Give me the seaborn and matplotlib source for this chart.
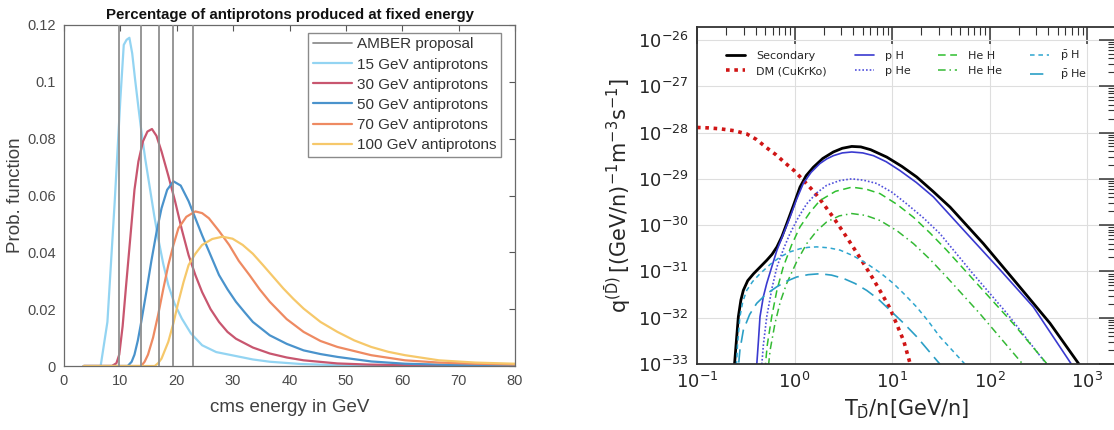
import numpy as np
import pandas as pd
import matplotlib
matplotlib.use("Agg")
import matplotlib.pyplot as plt
import matplotlib.ticker as mticker
import seaborn as sns

# ---- left panel: antiproton beams, prob. function vs cms energy ----
amber_cms = [9.7, 13.7, 16.8, 19.4, 22.9]

e15_x = [3.5, 6.5, 7.7, 9.0, 10.0, 10.6, 11.1, 11.6, 12.1, 12.6, 13.2, 13.7, 14.4, 15.2, 16.0, 16.7, 17.6,
         18.5, 19.6, 20.9, 22.5, 24.5, 27.0, 30.5, 33.5, 36.5, 42.0, 48.5, 60.0, 80.0]
e15_y = [0, 0, 0.0155, 0.058, 0.094, 0.113, 0.1148, 0.1155, 0.110, 0.101, 0.091, 0.083, 0.073, 0.063, 0.053,
         0.045, 0.036, 0.0285, 0.022, 0.0167, 0.0115, 0.0073, 0.0049, 0.0035, 0.0023, 0.0015, 0.0007, 0.0003,
         0.0001, 0.0]

e30_x = [3.5, 8.5, 9.3, 9.8, 10.4, 11.0, 11.8, 12.5, 13.2, 14.0, 14.8, 15.6, 16.4, 17.3, 18.5, 19.7, 20.9,
         22.1, 23.3, 24.5, 26.0, 27.5, 29.0, 30.5, 33.5, 36.5, 39.5, 42.5, 48.5, 54.0, 60.5, 70.0, 80.0]
e30_y = [0, 0, 0.001, 0.004, 0.014, 0.028, 0.046, 0.062, 0.072, 0.079, 0.0825, 0.0834, 0.081, 0.0755, 0.067,
         0.058, 0.048, 0.039, 0.032, 0.026, 0.020, 0.0155, 0.012, 0.0096, 0.0065, 0.0044, 0.003, 0.002, 0.0009,
         0.0005, 0.0003, 0.00015, 0.0001]

e50_x = [3.5, 11.3, 12.0, 12.5, 13.1, 13.7, 14.6, 15.5, 16.4, 17.3, 18.3, 19.4, 20.7, 22.1, 23.3, 24.5, 26.0,
         27.5, 29.0, 30.5, 32.0, 33.5, 36.5, 39.5, 42.5, 45.5, 48.5, 54.5, 60.5, 70.0, 80.0]
e50_y = [0, 0, 0.0015, 0.004, 0.009, 0.0155, 0.026, 0.037, 0.047, 0.0555, 0.062, 0.065, 0.0635, 0.058, 0.052,
         0.046, 0.039, 0.032, 0.027, 0.0226, 0.019, 0.0155, 0.0108, 0.0078, 0.0055, 0.0042, 0.0032, 0.0016,
         0.0008, 0.0003, 0.0001]

e70_x = [3.5, 13.7, 14.3, 14.9, 15.8, 16.7, 17.6, 18.5, 19.4, 20.3, 21.7, 23.3, 24.5, 25.7, 27.5, 29.3, 31.0,
         32.9, 34.7, 36.5, 39.5, 42.5, 45.5, 48.5, 54.5, 60.5, 66.5, 73.0, 80.0]
e70_y = [0, 0, 0.0015, 0.004, 0.010, 0.018, 0.027, 0.0355, 0.0425, 0.0485, 0.0525, 0.0544, 0.0538, 0.052,
         0.0475, 0.0426, 0.037, 0.032, 0.027, 0.0226, 0.0165, 0.012, 0.0088, 0.0067, 0.0038, 0.002, 0.0012,
         0.0008, 0.0005]

e100_x = [3.5, 16.1, 16.7, 17.3, 18.5, 19.4, 20.3, 21.2, 22.1, 23.3, 24.5, 26.3, 28.1, 29.9, 31.7, 33.5, 35.3,
          37.1, 38.9, 40.7, 42.5, 45.5, 48.5, 51.5, 54.5, 57.5, 60.5, 66.5, 73.0, 80.0]
e100_y = [0, 0, 0.001, 0.0026, 0.0085, 0.015, 0.0226, 0.0295, 0.0355, 0.0395, 0.0426, 0.0447, 0.0455, 0.0448,
          0.0426, 0.0395, 0.0355, 0.0314, 0.0273, 0.0236, 0.0202, 0.0155, 0.012, 0.009, 0.0067, 0.005, 0.0038,
          0.002, 0.0012, 0.0008]

beam_labels = ["15 GeV antiprotons", "30 GeV antiprotons", "50 GeV antiprotons",
               "70 GeV antiprotons", "100 GeV antiprotons"]
beam_colors = ["#93d4f2", "#c8566f", "#4a93cc", "#ee8a62", "#f6c86a"]
beam_x = [e15_x, e30_x, e50_x, e70_x, e100_x]
beam_y = [e15_y, e30_y, e50_y, e70_y, e100_y]

left_xticks = [0, 10, 20, 30, 40, 50, 60, 70, 80]
left_yticks = [0, 0.02, 0.04, 0.06, 0.08, 0.1, 0.12]
left_yticklabels = ["0", "0.02", "0.04", "0.06", "0.08", "0.1", "0.12"]

right_xticks = [1e-1, 1e0, 1e1, 1e2, 1e3]
right_yticks = [1e-33, 1e-32, 1e-31, 1e-30, 1e-29, 1e-28, 1e-27, 1e-26]

sec_lx = [-0.63, -0.60, -0.576, -0.55, -0.525, -0.48, -0.42, -0.35, -0.285, -0.23, -0.18, -0.13, -0.08, -0.01,
          0.056, 0.12, 0.193, 0.29, 0.398, 0.49, 0.587, 0.68, 0.78, 0.946, 1.1, 1.253, 1.42, 1.595, 1.937, 2.28,
          2.62, 2.95]
sec_ly = [-33.4, -32.6, -31.98, -31.62, -31.41, -31.2, -31.05, -30.9, -30.76, -30.63, -30.47, -30.25, -29.97,
          -29.57, -29.18, -28.93, -28.75, -28.56, -28.42, -28.34, -28.3, -28.31, -28.37, -28.53, -28.73, -28.96,
          -29.27, -29.61, -30.4, -31.26, -32.12, -33.1]

dm_lx = [-1.0, -0.88, -0.76, -0.62, -0.49, -0.39, -0.285, -0.19, -0.1, 0.0, 0.09, 0.2, 0.3, 0.4, 0.5, 0.6, 0.7,
         0.8, 0.9, 0.98, 1.05, 1.12, 1.2]
dm_ly = [-27.89, -27.9, -27.92, -27.96, -28.03, -28.15, -28.33, -28.48, -28.65, -28.83, -29.03, -29.28, -29.55,
         -29.84, -30.15, -30.47, -30.8, -31.14, -31.5, -31.8, -32.15, -32.5, -33.1]

pH_lx = [-0.40, -0.37, -0.354, -0.32, -0.285, -0.23, -0.18, -0.11, -0.046, 0.02, 0.09, 0.17, 0.26, 0.33, 0.398,
         0.49, 0.587, 0.7, 0.81, 0.94, 1.08, 1.25, 1.424, 1.766, 2.11, 2.45, 2.87]
pH_ly = [-33.4, -32.5, -31.98, -31.55, -31.26, -30.88, -30.54, -30.17, -29.83, -29.45, -29.1, -28.86, -28.67,
         -28.57, -28.5, -28.44, -28.42, -28.44, -28.5, -28.63, -28.82, -29.08, -29.39, -30.18, -30.97, -31.77,
         -33.1]

pHe_lx = [-0.35, -0.32, -0.285, -0.23, -0.18, -0.11, -0.046, 0.04, 0.125, 0.23, 0.33, 0.46, 0.587, 0.71, 0.843,
          1.0, 1.15, 1.32, 1.49, 1.83, 2.18, 2.62]
pHe_ly = [-33.4, -32.6, -31.98, -31.35, -30.9, -30.5, -30.18, -29.83, -29.54, -29.3, -29.14, -29.04, -29.0,
          -29.03, -29.1, -29.29, -29.54, -29.84, -30.18, -31.05, -31.91, -33.1]

HeH_lx = [-0.315, -0.28, -0.234, -0.18, -0.115, -0.03, 0.056, 0.16, 0.26, 0.42, 0.587, 0.73, 0.877, 1.05, 1.22,
          1.39, 1.56, 1.9, 2.24, 2.63]
HeH_ly = [-33.4, -32.6, -31.98, -31.4, -30.9, -30.43, -30.04, -29.72, -29.47, -29.27, -29.18, -29.22, -29.32,
          -29.55, -29.83, -30.17, -30.54, -31.33, -32.12, -33.1]

HeHe_lx = [-0.285, -0.25, -0.2, -0.145, -0.08, 0.02, 0.125, 0.23, 0.33, 0.46, 0.587, 0.73, 0.877, 1.05, 1.22,
           1.39, 1.56, 1.9, 2.38]
HeHe_ly = [-33.4, -32.7, -32.12, -31.65, -31.26, -30.8, -30.4, -30.12, -29.93, -29.8, -29.75, -29.79, -29.9,
           -30.12, -30.4, -30.74, -31.12, -31.91, -33.1]

pbH_lx = [-0.605, -0.585, -0.56, -0.53, -0.49, -0.43, -0.354, -0.25, -0.149, -0.05, 0.056, 0.14, 0.228, 0.35,
          0.467, 0.6, 0.74, 0.88, 1.014, 1.13, 1.253, 1.37, 1.49, 1.79]
pbH_ly = [-33.4, -32.6, -31.98, -31.65, -31.41, -31.22, -31.05, -30.85, -30.69, -30.58, -30.51, -30.48, -30.47,
          -30.49, -30.54, -30.66, -30.83, -31.03, -31.26, -31.5, -31.77, -32.07, -32.41, -33.1]

pbHe_lx = [-0.59, -0.56, -0.525, -0.46, -0.388, -0.29, -0.18, -0.08, 0.023, 0.14, 0.26, 0.38, 0.5, 0.62, 0.74,
           0.86, 0.98, 1.12, 1.253, 1.53]
pbHe_ly = [-33.4, -32.7, -32.27, -31.93, -31.69, -31.49, -31.33, -31.21, -31.12, -31.07, -31.05, -31.08, -31.15,
           -31.26, -31.41, -31.6, -31.84, -32.12, -32.41, -33.1]

src_labels = ["Secondary", "DM (CuKrKo)", "p H", "p He", "He H", "He He",
              r"$\bar{\mathrm{p}}$ H", r"$\bar{\mathrm{p}}$ He"]
src_lx = [sec_lx, dm_lx, pH_lx, pHe_lx, HeH_lx, HeHe_lx, pbH_lx, pbHe_lx]
src_ly = [sec_ly, dm_ly, pH_ly, pHe_ly, HeH_ly, HeHe_ly, pbH_ly, pbHe_ly]
src_colors = ["black", "#d01515", "#3a3ad0", "#5050dc", "#2fbf2f", "#35b935", "#2ea6cf", "#2b9fc6"]
src_styles = ["-", (0, (1, 1.3)), "-", (0, (1, 1.2)), (0, (5, 3)), (0, (5, 2.5, 1, 2.5)), (0, (3, 2.5)), (0, (8, 4))]
src_widths = [2.0, 2.6, 1.2, 1.2, 1.1, 1.1, 1.1, 1.2]

sns.set_style("white")
plt.rcParams["font.family"] = ["DejaVu Sans"]
plt.rcParams["mathtext.default"] = "regular"

W, H = 1114, 430
fig = plt.figure(figsize=(W / 100, H / 100), dpi=100)

# ================= left panel =================
ax1 = fig.add_axes([64 / W, (H - 366) / H, 451 / W, 341 / H])
lfont = "Liberation Sans"

for i, xc in enumerate(amber_cms):
    ax1.axvline(xc, color="#8f8f8f", lw=1.3, zorder=3,
                label="AMBER proposal" if i == 0 else "_nolegend_")

for lab, col, xs, ys in zip(beam_labels, beam_colors, beam_x, beam_y):
    df = pd.DataFrame({"energy": xs, "prob": ys})
    sns.lineplot(data=df, x="energy", y="prob", ax=ax1, color=col, lw=1.6,
                 sort=False, estimator=None, label=lab)

ax1.set_xlim(0, 80)
ax1.set_ylim(0, 0.12)
ax1.set_xticks(left_xticks)
ax1.set_yticks(left_yticks)
ax1.set_yticklabels(left_yticklabels)
ax1.tick_params(direction="in", length=4, width=0.8, top=True, right=True,
                labelsize=10.5, labelcolor="#4a4a4a", color="#555555",
                labelfontfamily=lfont, pad=6)
for sp in ax1.spines.values():
    sp.set_color("#6a6a6a")
    sp.set_linewidth(0.9)

ax1.set_xlabel("cms energy in GeV", family=lfont, fontsize=13.5, color="#404040")
ax1.xaxis.set_label_coords(0.5, -0.098)
ax1.set_ylabel("Prob. function", family=lfont, fontsize=13.5, color="#404040")
ax1.yaxis.set_label_coords(-0.089, 0.5)
ax1.set_title("Percentage of antiprotons produced at fixed energy",
              family=lfont, fontweight="bold", fontsize=10.8, pad=4, color="#111111")

leg1 = ax1.legend(loc="upper right", bbox_to_anchor=(0.969, 0.977), borderaxespad=0,
                  prop={"family": lfont, "size": 11}, frameon=True, fancybox=False,
                  edgecolor="#8a8a8a", framealpha=1, borderpad=0.3, labelspacing=0.4,
                  handlelength=2.6, handletextpad=0.3)
leg1.get_frame().set_linewidth(1.0)
for t in leg1.get_texts():
    t.set_color("#333333")

# ================= right panel =================
ax2 = fig.add_axes([697 / W, (H - 364) / H, 419 / W, 337 / H])

for lab, col, ls, lw, lx, ly in zip(src_labels, src_colors, src_styles, src_widths, src_lx, src_ly):
    df = pd.DataFrame({"T": np.power(10.0, lx), "q": np.power(10.0, ly)})
    sns.lineplot(data=df, x="T", y="q", ax=ax2, color=col, lw=lw, linestyle=ls,
                 sort=False, estimator=None, label=lab)

ax2.set_xscale("log")
ax2.set_yscale("log")
ax2.set_xlim(0.1, 10 ** 3.297)
ax2.set_ylim(1e-33, 10 ** -25.72)
ax2.set_xticks(right_xticks)
ax2.set_yticks(right_yticks)
ax2.xaxis.set_major_formatter(mticker.LogFormatterSciNotation())
ax2.yaxis.set_major_formatter(mticker.LogFormatterSciNotation())
ax2.xaxis.set_minor_locator(mticker.LogLocator(base=10, subs=np.arange(2, 10), numticks=100))
ax2.yaxis.set_minor_locator(mticker.LogLocator(base=10, subs=np.arange(2, 10), numticks=100))
ax2.xaxis.set_minor_formatter(mticker.NullFormatter())
ax2.yaxis.set_minor_formatter(mticker.NullFormatter())
ax2.grid(True, which="major", color="#dedede", lw=0.8)
ax2.set_axisbelow(True)
ax2.tick_params(which="both", direction="in", top=True, right=True, color="#333333")
ax2.tick_params(which="major", length=12, width=1.1, labelsize=13, pad=6)
ax2.tick_params(which="minor", length=6, width=0.8)
for sp in ax2.spines.values():
    sp.set_color("#333333")
    sp.set_linewidth(1.3)

ax2.set_xlabel(r"$T_{\bar{D}}/n[GeV/n]$", fontsize=15)
ax2.xaxis.set_label_coords(0.5, -0.1)
ax2.set_ylabel(r"$q^{(\bar{D})}\,[(GeV/n)^{-1}m^{-3}s^{-1}]$", fontsize=15)
ax2.yaxis.set_label_coords(-0.153, 0.5)

ax2.legend(loc="upper left", bbox_to_anchor=(0.07, 0.935), borderaxespad=0,
           ncol=4, frameon=False, fontsize=8, handlelength=1.7, handletextpad=1.0,
           columnspacing=2.5, labelspacing=0.45, borderpad=0)

fig.savefig("out.png", dpi=100)
